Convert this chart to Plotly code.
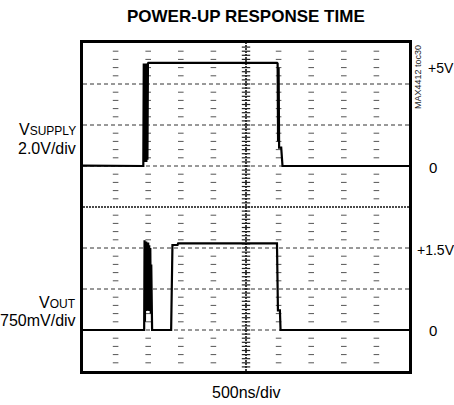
import plotly.graph_objects as go

# Scope settings
TIME_PER_DIV = 500        # ns/div
SUPPLY_PER_DIV = 2.0      # V/div
OUT_PER_DIV = 0.75        # V/div
H_DIVS = 10
V_DIVS = 8

# VSUPPLY trace (time in ns, volts)
supply_t = [0, 925, 932, 940, 948, 956, 964, 972, 980, 988, 996, 1002,
            2975, 2985, 2992, 3000, 3008, 3040, 3060, 5000]
supply_v = [0.02, 0.0, 5.0, 0.2, 5.0, 0.3, 5.0, 0.2, 5.0, 0.3, 5.0, 5.03,
            5.03, 5.0, 1.2, 4.8, 0.9, 0.9, 0.0, 0.0]

# VOUT trace (time in ns, volts)
out_t = [0, 938, 944, 950, 956, 963, 970, 978, 986, 993, 1000, 1008,
         1016, 1024, 1032, 1040, 1047, 1053, 1060, 1352, 1372, 1450, 1460,
         2975, 2984, 2990, 3020, 3030, 5000]
out_v = [0.0, 0.0, 1.64, 0.15, 1.6, 0.35, 1.62, 0.4, 1.58, 0.35, 1.6, 0.4,
         1.55, 0.35, 1.5, 0.3, 1.2, 0.0, 0.0, 0.0, 1.555, 1.555, 1.586,
         1.586, 0.36, 0.36, 0.36, 0.0, 0.0]

# Axis spans so that supply 0 V sits 5 div up and output 0 V sits 1 div up
supply_range = [-5 * SUPPLY_PER_DIV, (V_DIVS - 5) * SUPPLY_PER_DIV]
out_range = [-1 * OUT_PER_DIV, (V_DIVS - 1) * OUT_PER_DIV]
t_range = [0, H_DIVS * TIME_PER_DIV]

fig = go.Figure()

# Graticule: vertical division lines drawn as rows of short dashes
tick_x, tick_y = [], []
for k in range(1, H_DIVS):
    if k == H_DIVS // 2:
        continue
    for j in range(1, V_DIVS * 5):
        if j % 5 == 0:
            continue
        tick_x.append(k * TIME_PER_DIV)
        tick_y.append(supply_range[0] + j * SUPPLY_PER_DIV / 5)
fig.add_trace(go.Scatter(
    x=tick_x, y=tick_y, mode="markers", hoverinfo="skip",
    marker=dict(symbol="line-ew", size=4, line=dict(width=1, color="#555")),
))

# Centre vertical axis with wider minor ticks
cx, cy = [], []
for j in range(1, V_DIVS * 5 * 2):
    cx.append(H_DIVS // 2 * TIME_PER_DIV)
    cy.append(supply_range[0] + j * SUPPLY_PER_DIV / 10)
fig.add_trace(go.Scatter(
    x=cx, y=cy, mode="markers", hoverinfo="skip",
    marker=dict(symbol="line-ew", size=6, line=dict(width=1.2, color="#222")),
))

shapes = []
for j in range(1, V_DIVS):
    centre = j == V_DIVS // 2
    shapes.append(dict(
        type="line", xref="x domain", yref="y domain",
        x0=0, x1=1, y0=j / V_DIVS, y1=j / V_DIVS,
        line=dict(color="#111" if centre else "#333",
                  width=1.6 if centre else 1,
                  dash="2px,1px" if centre else "4px,3px"),
        layer="below",
    ))
shapes.append(dict(
    type="line", xref="x domain", yref="y domain",
    x0=0.5, x1=0.5, y0=0, y1=1,
    line=dict(color="#111", width=1.6, dash="2px,1px"), layer="below",
))

fig.add_trace(go.Scatter(
    x=supply_t, y=supply_v, mode="lines", hoverinfo="skip",
    line=dict(color="black", width=2.2),
))
fig.add_trace(go.Scatter(
    x=out_t, y=out_v, mode="lines", yaxis="y2", hoverinfo="skip",
    line=dict(color="black", width=2.2),
))

font = "Liberation Sans Narrow, Liberation Sans, Arial, sans-serif"
W, H = 454, 405
ML, MR, MT, MB = 83, 45, 43, 34
PW, PH = W - ML - MR, H - MT - MB

# paper coordinates from pixel positions on the page
px = lambda v: (v - ML) / PW
py = lambda v: (H - MB - v) / PH

ann = []


def label(text, x, y, xanchor, size=16, **kw):
    ann.append(dict(text=text, x=px(x), y=py(y), xref="paper", yref="paper",
                    xanchor=xanchor, yanchor="middle", showarrow=False,
                    font=dict(size=size, color="black", family=font), **kw))


label("<b>POWER-UP RESPONSE TIME</b>", 246, 16, "center", size=17)
label("V<span style='font-size:12px'>SUPPLY</span>", 78, 129, "right")
label("2.0V/div", 78, 148, "right")
label("V<span style='font-size:12px'>OUT</span>", 78, 302, "right")
label("750mV/div", 78, 320, "right")
label("+5V", 426, 68, "left", size=14)
label("0", 427, 167, "left", size=15)
label("+1.5V", 415, 250, "left", size=14)
label("0", 427, 330, "left", size=15)
label("500ns/div", 246, 392, "center", size=16)
ann.append(dict(text="MAX4412 toc30", x=px(418), y=py(77), xref="paper",
                yref="paper", xanchor="center", yanchor="middle",
                showarrow=False, textangle=-90,
                font=dict(size=9, color="#222", family=font)))

axis_common = dict(showgrid=False, zeroline=False, showticklabels=False,
                   ticks="", fixedrange=True)
fig.update_layout(
    width=W, height=H,
    margin=dict(l=ML, r=MR, t=MT, b=MB),
    paper_bgcolor="white", plot_bgcolor="white",
    showlegend=False,
    xaxis=dict(range=t_range, showline=True, mirror=True, linewidth=3,
               linecolor="black", **axis_common),
    yaxis=dict(range=supply_range, showline=True, mirror=True, linewidth=3,
               linecolor="black", **axis_common),
    yaxis2=dict(range=out_range, overlaying="y", side="right", showline=False,
                **axis_common),
    shapes=shapes,
    annotations=ann,
)

fig.write_html("out.html")
